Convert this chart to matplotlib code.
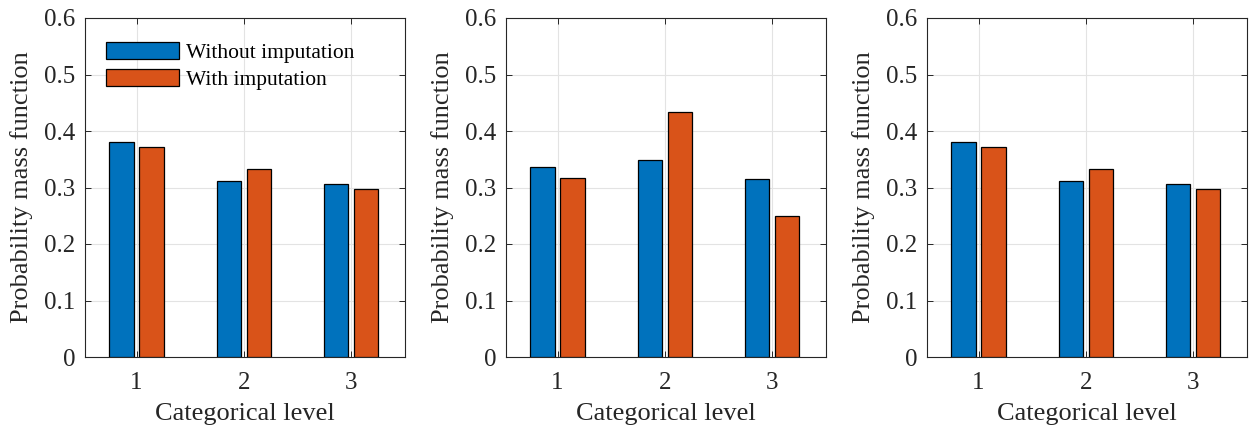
import matplotlib
matplotlib.use("Agg")
import matplotlib.pyplot as plt
import numpy as np

plt.rcParams["font.family"] = ["Liberation Serif", "DejaVu Serif"]

levels = [1, 2, 3]
series_names = ["Without imputation", "With imputation"]
without_left = [0.381, 0.312, 0.307]
with_left = [0.371, 0.332, 0.298]
without_mid = [0.336, 0.349, 0.315]
with_mid = [0.316, 0.434, 0.249]
without_right = [0.381, 0.312, 0.307]
with_right = [0.371, 0.332, 0.298]
y_ticks = [0, 0.1, 0.2, 0.3, 0.4, 0.5, 0.6]

panels = [
    (without_left, with_left),
    (without_mid, with_mid),
    (without_right, with_right),
]

BLUE = "#0072BD"
ORANGE = "#D95319"
W, H = 1249, 428
fig = plt.figure(figsize=(W / 100, H / 100), dpi=100)

lefts = [85, 506, 927]
for i, (a, b) in enumerate(panels):
    ax = fig.add_axes([lefts[i] / W, (H - 357) / H, 320 / W, 339 / H])
    x = np.array(levels, dtype=float)
    ax.bar(x - 0.14, a, width=0.226, color=BLUE, edgecolor="black",
           linewidth=0.9, label=series_names[0], zorder=3)
    ax.bar(x + 0.14, b, width=0.226, color=ORANGE, edgecolor="black",
           linewidth=0.9, label=series_names[1], zorder=3)
    ax.set_xlim(0.52, 3.5)
    ax.set_ylim(0, 0.6)
    ax.set_xticks(levels)
    ax.set_yticks(y_ticks)
    ax.set_yticklabels(["0" if t == 0 else f"{t:g}" for t in y_ticks])
    ax.grid(True, color="#e3e3e3", linewidth=0.8, zorder=0)
    ax.set_axisbelow(True)
    ax.tick_params(direction="in", length=4, width=0.7, labelsize=18,
                   colors="#262626", top=True, right=True)
    ax.tick_params(axis="x", pad=11)
    ax.tick_params(axis="y", pad=7)
    for s in ax.spines.values():
        s.set_color("#262626")
        s.set_linewidth(0.8)
    ax.set_xlabel("Categorical level", fontsize=19, color="#262626", labelpad=6)
    ax.set_ylabel("Probability mass function", fontsize=19, color="#262626", labelpad=8)
    if i == 0:
        ax.legend(loc="upper left", bbox_to_anchor=(0.066, 0.93), frameon=False,
                  fontsize=15.5, handlelength=3.4, handleheight=0.85,
                  borderpad=0, borderaxespad=0, labelspacing=0.3, handletextpad=0.33)

fig.savefig("out.png", dpi=100)
